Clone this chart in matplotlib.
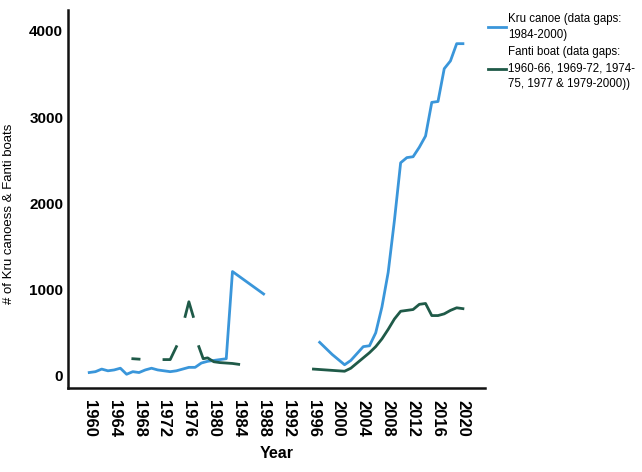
import numpy as np
import matplotlib
matplotlib.use("Agg")
import matplotlib.pyplot as plt

# ---- data ----
kru_years_a = list(range(1960, 1984)) + [1988]
kru_vals_a = [40, 50, 80, 60, 70, 90, 20, 50, 40, 70, 90, 70, 60, 50, 60, 80,
              100, 100, 150, 170, 180, 190, 200, 1210, 950]
kru_years_b = list(range(1997, 2021))
kru_vals_b = [390, 320, 250, 190, 130, 180, 260, 340, 350, 500, 800, 1200,
              1800, 2470, 2530, 2540, 2650, 2780, 3170, 3180, 3560, 3650,
              3850, 3850]

fanti_years_a = [1967, 1968]
fanti_vals_a = [200, 195]
fanti_years_b = [1972, 1973, 1974]
fanti_vals_b = [190, 190, 340]
fanti_years_c = [1975.4, 1976, 1976.7]
fanti_vals_c = [690, 860, 690]
fanti_years_d = [1977.6, 1978.3, 1979, 1980, 1981, 1982, 1983, 1984]
fanti_vals_d = [340, 200, 210, 165, 155, 150, 145, 135]
fanti_years_e = list(range(1996, 2021))
fanti_vals_e = [80, 75, 70, 65, 60, 55, 90, 150, 210, 270, 340, 430, 540,
                660, 750, 760, 770, 830, 840, 700, 700, 720, 760, 790, 780]

x_ticks = list(range(1960, 2021, 4))
y_ticks = [0, 1000, 2000, 3000, 4000]

kru_label = "Kru canoe (data gaps:\n1984-2000)"
fanti_label = "Fanti boat (data gaps:\n1960-66, 1969-72, 1974-\n75, 1977 & 1979-2000))"

KRU = "#3a96da"
FANTI = "#1f5a48"

plt.rcParams['font.family'] = ['Liberation Sans', 'DejaVu Sans']

fig = plt.figure(figsize=(6.42, 4.72), dpi=100)
ax = fig.add_axes([0.106, 0.178, 0.649, 0.801])

lw = 2.0
ax.plot(kru_years_a, kru_vals_a, color=KRU, lw=lw, label=kru_label, solid_joinstyle='round')
ax.plot(kru_years_b, kru_vals_b, color=KRU, lw=lw, solid_joinstyle='round')
for yrs, vals, lab in [(fanti_years_a, fanti_vals_a, fanti_label),
                       (fanti_years_b, fanti_vals_b, None),
                       (fanti_years_c, fanti_vals_c, None),
                       (fanti_years_d, fanti_vals_d, None),
                       (fanti_years_e, fanti_vals_e, None)]:
    ax.plot(yrs, vals, color=FANTI, lw=lw, label=lab, solid_joinstyle='round')

ax.set_xlim(1956.6, 2023.5)
ax.set_ylim(-139, 4241)
ax.set_xticks(x_ticks)
ax.set_xticklabels([str(t) for t in x_ticks], rotation=-90, fontsize=12,
                   fontweight='bold')
ax.set_yticks(y_ticks)
ax.set_yticklabels([str(t) for t in y_ticks], fontsize=11, fontweight='bold')
ax.tick_params(axis='x', length=0, pad=9)
ax.tick_params(axis='y', length=0, pad=3.5)

for s in ['top', 'right']:
    ax.spines[s].set_visible(False)
for s in ['left', 'bottom']:
    ax.spines[s].set_linewidth(1.8)
    ax.spines[s].set_color('#111111')

ax.set_xlabel("Year", fontsize=11.5, fontweight='bold', labelpad=6)
ax.set_ylabel("# of Kru canoess & Fanti boats", fontsize=9.5)
ax.yaxis.set_label_coords(-0.127, 0.46)

leg = ax.legend(loc='upper left', bbox_to_anchor=(1.0, 1.0), frameon=False,
                fontsize=8.3, handlelength=1.6, handletextpad=0.15,
                borderaxespad=0.0, borderpad=0.25, labelspacing=0.45)
for t in leg.get_texts():
    t.set_linespacing(1.45)

fig.savefig("out.png", dpi=100)
